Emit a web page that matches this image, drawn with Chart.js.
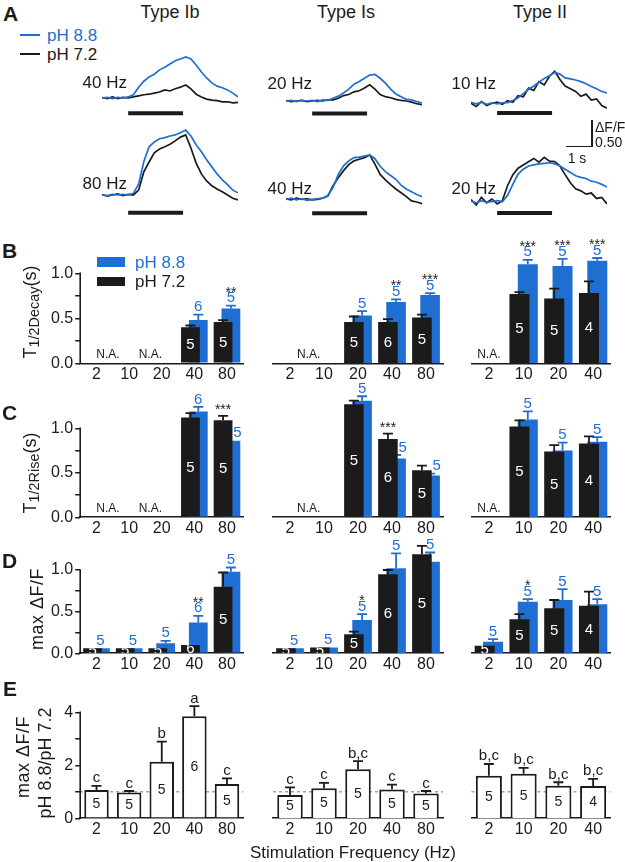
<!DOCTYPE html>
<html><head><meta charset="utf-8">
<script src="https://cdn.jsdelivr.net/npm/chart.js@4.4.1/dist/chart.umd.min.js"></script>
<style>
html,body{margin:0;padding:0;background:#fff;}
#stage{position:relative;width:625px;height:862px;overflow:hidden;font-family:'Liberation Sans',Arial,sans-serif;color:#1b1b1b;}
#stage canvas{position:absolute;}
.t{position:absolute;white-space:nowrap;line-height:1;}
.t sub{font-size:0.8em;vertical-align:-0.25em;line-height:1;}
</style></head><body><div id="stage"></div>
<script>
const FONT = "'Liberation Sans', Arial, sans-serif";
const BLUE = '#1f6fd3';
const INK = '#1b1b1b';

// ---------- Panel A: example traces (ΔF/F vs time, s) ----------
const traceTime = [0,0.2,0.4,0.6,0.8,1.0,1.2,1.4,1.6,1.8,2.0,2.2,2.4,2.6,2.8,3.0,3.2,3.4,3.6,3.8,4.0,4.2,4.4,4.6,4.8,5.0,5.2];
const stimTimes = [1.0, 3.1];
const ib40Blue  = [0.00,0.01,-0.01,0.01,0.00,0.02,0.06,0.20,0.31,0.39,0.44,0.52,0.57,0.63,0.69,0.72,0.76,0.72,0.61,0.48,0.37,0.28,0.22,0.19,0.15,0.09,0.02];
const ib40Black = [0.01,-0.01,0.02,-0.01,0.01,0.00,0.02,0.04,0.06,0.07,0.09,0.11,0.15,0.13,0.17,0.20,0.24,0.17,0.07,0.02,-0.02,-0.04,-0.05,-0.07,-0.07,-0.09,-0.08];
const ib80Blue  = [0.00,-0.01,0.01,0.00,0.01,0.00,0.03,0.20,0.62,0.89,0.98,1.04,1.06,1.09,1.11,1.15,1.20,1.09,0.93,0.80,0.65,0.52,0.39,0.28,0.19,0.09,0.04];
const ib80Black = [0.01,-0.02,0.00,0.02,-0.01,0.01,0.00,0.09,0.43,0.61,0.78,0.85,0.89,0.94,1.00,1.07,1.11,0.87,0.59,0.39,0.26,0.17,0.11,0.06,0.00,-0.06,-0.09];
const is20Blue  = [0.00,0.01,-0.01,0.01,0.00,0.01,-0.01,0.02,0.01,0.05,0.09,0.15,0.22,0.31,0.36,0.42,0.48,0.49,0.42,0.33,0.22,0.13,0.08,0.03,0.02,-0.01,-0.04];
const is20Black = [0.01,-0.01,0.00,0.01,-0.01,0.00,0.01,0.00,0.02,0.02,0.05,0.10,0.12,0.17,0.19,0.24,0.30,0.22,0.12,0.08,0.06,0.03,0.01,0.00,-0.02,-0.05,-0.07];
const is40Blue  = [0.00,0.02,-0.01,0.01,-0.02,0.00,0.01,0.02,0.07,0.22,0.46,0.62,0.71,0.77,0.78,0.80,0.82,0.75,0.61,0.51,0.44,0.37,0.26,0.19,0.14,0.09,0.05];
const is40Black = [0.01,-0.01,0.02,0.00,0.01,-0.01,0.00,0.02,0.06,0.25,0.40,0.53,0.64,0.71,0.74,0.77,0.82,0.65,0.46,0.36,0.27,0.19,0.12,0.05,-0.03,-0.05,-0.08];
const ii10Blue  = [0.02,-0.01,0.02,-0.02,0.01,-0.01,0.01,0.01,0.05,0.10,0.18,0.26,0.32,0.39,0.46,0.51,0.57,0.54,0.47,0.45,0.43,0.40,0.36,0.31,0.27,0.22,0.19];
const ii10Black = [0.00,-0.06,0.03,-0.04,0.00,0.02,-0.02,0.05,0.02,0.14,0.12,0.28,0.24,0.40,0.34,0.50,0.59,0.44,0.32,0.27,0.22,0.13,0.17,0.06,0.08,-0.04,-0.09];
const ii20Blue  = [0.01,-0.02,0.02,-0.01,0.00,0.02,0.00,0.12,0.32,0.51,0.60,0.66,0.68,0.70,0.71,0.72,0.70,0.66,0.60,0.54,0.48,0.45,0.43,0.38,0.36,0.32,0.27];
const ii20Black = [0.04,-0.06,0.08,-0.02,0.05,-0.04,0.02,0.30,0.50,0.62,0.68,0.74,0.80,0.73,0.82,0.75,0.74,0.66,0.50,0.35,0.24,0.20,0.14,0.16,0.06,0.08,-0.04];

// ---------- Categories (stimulation frequency, Hz) ----------
const freqIb = ['2','10','20','40','80'];
const freqIs = ['2','10','20','40','80'];
const freqII = ['2','10','20','40'];

// ---------- Panel B: T1/2 decay (s) ----------
const decayIb72 = [null,null,null,0.40,0.46];  const decayIb72Err = [0,0,0,0.02,0.02];
const decayIb88 = [null,null,null,0.48,0.61];  const decayIb88Err = [0,0,0,0.06,0.03];
const decayIs72 = [null,null,0.46,0.46,0.51];  const decayIs72Err = [0,0,0.06,0.03,0.03];
const decayIs88 = [null,null,0.53,0.68,0.76];  const decayIs88Err = [0,0,0.05,0.03,0.02];
const decayII72 = [null,0.77,0.72,0.78];       const decayII72Err = [0,0.02,0.11,0.13];
const decayII88 = [null,1.10,1.08,1.14];       const decayII88Err = [0,0.05,0.08,0.03];
const decayIbStars = ['','','','','**'];
const decayIsStars = ['','','','**','***'];
const decayIIStars = ['','***','***','***'];

// ---------- Panel C: T1/2 rise (s) ----------
const riseIb72 = [null,null,null,1.12,1.09];   const riseIb72Err = [0,0,0,0.05,0.05];
const riseIb88 = [null,null,null,1.19,0.86];   const riseIb88Err = [0,0,0,0.05,0];
const riseIs72 = [null,null,1.27,0.88,0.53];   const riseIs72Err = [0,0,0.04,0.06,0.05];
const riseIs88 = [null,null,1.31,0.66,0.47];   const riseIs88Err = [0,0,0.05,0.04,0.02];
const riseII72 = [null,1.02,0.74,0.83];        const riseII72Err = [0,0.07,0.07,0.08];
const riseII88 = [null,1.10,0.75,0.85];        const riseII88Err = [0,0.09,0.09,0.05];
const riseIbStars = ['','','','','***'];
const riseIsStars = ['','','','***',''];
const riseIIStars = ['','','',''];

// n per bar (B and C)
const nTimeIb72 = ['','','','5','5'];  const nTimeIb88 = ['','','','6','5'];
const nTimeIs72 = ['','','5','6','5']; const nTimeIs88 = ['','','5','5','5'];
const nTimeII72 = ['','5','5','4'];    const nTimeII88 = ['','5','5','5'];
// N.A. label positions (category index units)
const naIb = [0.35, 1.65];
const naIs = [0.55];
const naII = [0];

// ---------- Panel D: max ΔF/F ----------
const maxIb72 = [0.06,0.06,0.06,0.10,0.80];  const maxIb72Err = [0,0,0,0,0.17];
const maxIb88 = [0.06,0.06,0.12,0.37,0.98];  const maxIb88Err = [0,0,0.03,0.08,0.05];
const maxIs72 = [0.06,0.07,0.23,0.95,1.19];  const maxIs72Err = [0,0,0.03,0.05,0.10];
const maxIs88 = [0.06,0.07,0.40,1.02,1.10];  const maxIs88Err = [0,0,0.07,0.18,0.11];
const maxII72 = [0.09,0.41,0.54,0.57];       const maxII72Err = [0,0.06,0.10,0.17];
const maxII88 = [0.14,0.62,0.64,0.59];       const maxII88Err = [0.03,0.03,0.13,0.06];
const nMaxIb72 = ['5','5','5','6','5']; const nMaxIb88 = ['5','5','5','6','5'];
const nMaxIs72 = ['5','5','5','6','5']; const nMaxIs88 = ['5','5','5','5','5'];
const nMaxII72 = ['5','5','5','4'];     const nMaxII88 = ['5','5','5','5'];
const maxIbStars = ['','','','**',''];
const maxIsStars = ['','','*','',''];
const maxIIStars = ['','*','',''];

// ---------- Panel E: ratio max ΔF/F pH 8.8 / pH 7.2 ----------
const ratioIb = [1.07,0.97,2.13,3.85,1.29];  const ratioIbErr = [0.15,0.06,0.76,0.38,0.22];
const ratioIs = [0.88,1.13,1.85,1.09,0.94];  const ratioIsErr = [0.29,0.21,0.31,0.18,0.09];
const ratioII = [1.61,1.68,1.23,1.22];       const ratioIIErr = [0.44,0.22,0.13,0.27];
const nRatioIb = ['5','5','5','6','5'];
const nRatioIs = ['5','5','5','5','5'];
const nRatioII = ['5','5','5','4'];
const lettersIb = ['c','c','b','a','c'];
const lettersIs = ['c','c','b,c','c','c'];
const lettersII = ['b,c','b,c','b,c','b,c'];
const refLevel = 1;

// ================= layout helpers =================
const stage = document.getElementById('stage');
function makeCanvas(l, t, w, h) {
  const c = document.createElement('canvas');
  c.width = w; c.height = h;
  c.style.left = l + 'px'; c.style.top = t + 'px';
  c.style.width = w + 'px'; c.style.height = h + 'px';
  stage.appendChild(c);
  return c;
}
function txt(html, x, y, o = {}) {
  const d = document.createElement('div');
  d.className = 't';
  d.innerHTML = html;
  d.style.left = x + 'px'; d.style.top = y + 'px';
  d.style.fontSize = (o.size || 16) + 'px';
  if (o.bold) d.style.fontWeight = 'bold';
  if (o.color) d.style.color = o.color;
  if (o.ls) d.style.letterSpacing = o.ls + 'px';
  const ax = o.align === 'left' ? '0' : o.align === 'right' ? '-100%' : '-50%';
  d.style.transform = o.rot ? 'translate(-50%,-50%) rotate(-90deg)' : `translate(${ax},-50%)`;
  stage.appendChild(d);
}
function box(l, t, w, h, color) {
  const d = document.createElement('div');
  d.style.cssText = `position:absolute;left:${l}px;top:${t}px;width:${w}px;height:${h}px;background:${color};`;
  stage.appendChild(d);
}

// ================= Panel A =================
function traceChart(left, baseline, blue, black, stimY) {
  const W = 136, H = 92, PPU = 54.1;
  const top = Math.round(baseline - 1.3 * PPU);
  const ymax = (baseline - top) / PPU, ymin = ymax - H / PPU;
  const c = makeCanvas(left, top, W, H);
  new Chart(c, {
    type: 'line',
    data: { datasets: [
      { label: 'pH 8.8', data: traceTime.map((t, i) => ({ x: t, y: blue[i] })), borderColor: BLUE, borderWidth: 1.7, pointRadius: 0, tension: 0 },
      { label: 'pH 7.2', data: traceTime.map((t, i) => ({ x: t, y: black[i] })), borderColor: INK, borderWidth: 1.7, pointRadius: 0, tension: 0 },
      { label: 'stim', data: stimTimes.map(t => ({ x: t, y: stimY })), borderColor: INK, borderWidth: 4, pointRadius: 0, borderCapStyle: 'butt' }
    ] },
    options: {
      responsive: false, animation: false, devicePixelRatio: 1, events: [],
      layout: { padding: 0 },
      plugins: { legend: { display: false }, tooltip: { enabled: false } },
      scales: { x: { type: 'linear', display: false, min: 0, max: 5.2 }, y: { display: false, min: ymin, max: ymax } }
    }
  });
}
traceChart(102, 98, ib40Blue, ib40Black, -0.28);
traceChart(102, 195, ib80Blue, ib80Black, -0.33);
traceChart(286, 101, is20Blue, is20Black, -0.23);
traceChart(286, 199.3, is40Blue, is40Black, -0.26);
traceChart(471, 103.3, ii10Blue, ii10Black, -0.18);
traceChart(471, 201.7, ii20Blue, ii20Black, -0.21);

// ================= Bar panels =================
const GX = [[80.2, 243.3], [273, 443], [471.5, 610.5]];
const ROWS = {
  B: { bottom: 363.3, ppu: 90, max: 1.25, axisTop: 1.0, step: 0.25 },
  C: { bottom: 517.3, ppu: 89, max: 1.42, axisTop: 1.0, step: 0.25 },
  D: { bottom: 653.3, ppu: 83.3, max: 1.35, axisTop: 1.0, step: 0.25 },
  E: { bottom: 818.3, ppu: 26.5, max: 4.4, axisTop: 4, step: 1 }
};
const YW = 40, XH = 24;

function errBars(chart, meta, vals, errs, color) {
  const ctx = chart.ctx, y = chart.scales.y;
  ctx.save(); ctx.strokeStyle = color; ctx.lineWidth = 1.8;
  meta.data.forEach((b, i) => {
    if (vals[i] == null || !errs[i]) return;
    const y0 = y.getPixelForValue(vals[i]), y1 = y.getPixelForValue(vals[i] + errs[i]);
    ctx.beginPath();
    ctx.moveTo(b.x, y0); ctx.lineTo(b.x, y1);
    ctx.moveTo(b.x - 5, y1); ctx.lineTo(b.x + 5, y1);
    ctx.stroke();
  });
  ctx.restore();
}

function annot(spec, row, showY) {
  return {
    id: 'annot',
    beforeDatasetsDraw(chart) {
      if (spec.mode !== 'ratio') return;
      const { ctx, chartArea: a } = chart;
      const py = chart.scales.y.getPixelForValue(refLevel);
      ctx.save(); ctx.strokeStyle = '#8c8c8c'; ctx.lineWidth = 1.2; ctx.setLineDash([3, 3]);
      ctx.beginPath(); ctx.moveTo(a.left, py); ctx.lineTo(a.right, py); ctx.stroke(); ctx.restore();
    },
    afterDatasetDraw(chart, args) {
      if (spec.mode === 'pair') {
        if (args.index === 0) errBars(chart, args.meta, spec.v72, spec.e72, INK);
        else errBars(chart, args.meta, spec.v88, spec.e88, BLUE);
      } else errBars(chart, args.meta, spec.v, spec.e, INK);
    },
    afterDatasetsDraw(chart) {
      const { ctx, chartArea: a } = chart;
      const xs = chart.scales.x, ys = chart.scales.y;
      const base = ys.getPixelForValue(0);
      ctx.save();
      if (showY) {
        ctx.strokeStyle = INK; ctx.lineWidth = 1.6;
        ctx.beginPath(); ctx.moveTo(a.left, base + 0.8); ctx.lineTo(a.left, ys.getPixelForValue(row.axisTop) - 0.75); ctx.stroke();
      }
      ctx.textAlign = 'center';
      if (spec.mode === 'pair') {
        const mK = chart.getDatasetMeta(0), mB = chart.getDatasetMeta(1);
        (spec.na || []).forEach(p => {
          ctx.font = `12px ${FONT}`; ctx.fillStyle = INK; ctx.textBaseline = 'middle';
          ctx.fillText('N.A.', xs.getPixelForValue(p), base - 8.5);
        });
        spec.labels.forEach((lab, i) => {
          const kb = mK.data[i], bb = mB.data[i];
          if (spec.v72[i] != null && spec.n72[i]) {
            const top = ys.getPixelForValue(spec.v72[i]);
            ctx.save();
            ctx.beginPath(); ctx.rect(kb.x - kb.width / 2, top, kb.width, base - top); ctx.clip();
            ctx.font = `15px ${FONT}`; ctx.fillStyle = '#ffffff'; ctx.textBaseline = 'middle';
            ctx.fillText(spec.n72[i], kb.x, (top + base) / 2);
            ctx.restore();
          }
          let ly = null, lx = null;
          if (spec.v88[i] != null && spec.n88[i]) {
            const topB = ys.getPixelForValue(spec.v88[i] + (spec.e88[i] || 0));
            ly = topB - 7.5; lx = bb.x;
            const kTop = spec.v72[i] != null ? ys.getPixelForValue(spec.v72[i]) : Infinity;
            if (kTop < ly + 6) lx = kb.x + kb.width / 2 + 5;
            ctx.font = `15px ${FONT}`; ctx.fillStyle = BLUE; ctx.textBaseline = 'middle';
            ctx.fillText(spec.n88[i], lx, ly);
          }
          if (spec.stars[i]) {
            const kErrTop = ys.getPixelForValue(spec.v72[i] + (spec.e72[i] || 0));
            let ay, ax;
            if (ly != null && ly < kErrTop) { ay = ly; ax = lx; } else { ay = kErrTop; ax = kb.x; }
            const fs = 14, cy = ay - 9.5;
            ctx.font = `${fs}px ${FONT}`; ctx.fillStyle = INK; ctx.textBaseline = 'alphabetic';
            ctx.fillText(spec.stars[i], ax, cy + 0.57 * fs);
          }
        });
      } else {
        const m = chart.getDatasetMeta(0);
        spec.labels.forEach((lab, i) => {
          const b = m.data[i];
          const top = ys.getPixelForValue(spec.v[i]);
          ctx.font = `14px ${FONT}`; ctx.fillStyle = INK; ctx.textBaseline = 'middle';
          ctx.fillText(spec.n[i], b.x, (top + base) / 2);
          const et = ys.getPixelForValue(spec.v[i] + spec.e[i]);
          ctx.font = `15px ${FONT}`; ctx.textBaseline = 'alphabetic';
          ctx.fillText(spec.letters[i], b.x, et - 3.5);
        });
      }
      ctx.restore();
    }
  };
}

function barPanel(row, g, spec) {
  const [al, ar] = GX[g];
  const ab = row.bottom, at = row.bottom - row.max * row.ppu;
  const showY = g === 0;
  const cl = Math.floor(al - (showY ? YW + 8 : 8));
  const ct = Math.floor(at - 28);
  const cw = Math.ceil(ar + 8 - cl);
  const ch = Math.ceil(ab + XH - ct) + 1;
  const padding = { left: al - cl - (showY ? YW : 0), right: cl + cw - ar, top: at - ct, bottom: ct + ch - ab - XH };
  const c = makeCanvas(cl, ct, cw, ch);
  let datasets;
  if (spec.mode === 'pair') {
    datasets = [
      { label: 'pH 7.2', data: spec.v72, backgroundColor: INK, order: 0, categoryPercentage: 0.48, barPercentage: 2.4 },
      { label: 'pH 8.8', data: spec.v88, backgroundColor: BLUE, order: 1, categoryPercentage: 0.48, barPercentage: 2.4 }
    ];
  } else {
    datasets = [{ label: 'ratio', data: spec.v, backgroundColor: '#ffffff', borderColor: INK, borderWidth: 2, borderSkipped: 'start', categoryPercentage: 1, barPercentage: 0.75 }];
  }
  const fmt = row.step === 1
    ? (v => (Math.round(v) % 2 === 0 ? String(Math.round(v)) : ''))
    : (v => (Math.abs(v * 2 - Math.round(v * 2)) < 1e-6 ? v.toFixed(1) : ''));
  new Chart(c, {
    type: 'bar',
    data: { labels: spec.labels, datasets },
    options: {
      responsive: false, animation: false, devicePixelRatio: 1, events: [],
      layout: { padding },
      plugins: { legend: { display: false }, tooltip: { enabled: false } },
      scales: {
        x: {
          offset: true,
          afterFit: s => { s.height = XH; },
          ticks: { padding: 2, color: INK, font: { size: 16, family: FONT }, autoSkip: false, maxRotation: 0 },
          grid: { display: true, drawOnChartArea: false, drawTicks: false },
          border: { display: true, color: INK, width: 1.6 }
        },
        y: {
          display: showY, min: 0, max: row.max,
          afterFit: s => { s.width = showY ? YW : 0; },
          afterBuildTicks: s => { s.ticks = s.ticks.filter(t => t.value <= row.axisTop + 1e-9); },
          ticks: { stepSize: row.step, includeBounds: false, autoSkip: false, padding: 2, color: INK, font: { size: 16, family: FONT }, callback: v => fmt(v) },
          grid: { display: true, drawOnChartArea: false, drawTicks: true, tickLength: 5, color: INK, lineWidth: 1.5 },
          border: { display: false }
        }
      }
    },
    plugins: [annot(spec, row, showY)]
  });
}

// B
barPanel(ROWS.B, 0, { mode: 'pair', labels: freqIb, v72: decayIb72, e72: decayIb72Err, v88: decayIb88, e88: decayIb88Err, n72: nTimeIb72, n88: nTimeIb88, stars: decayIbStars, na: naIb });
barPanel(ROWS.B, 1, { mode: 'pair', labels: freqIs, v72: decayIs72, e72: decayIs72Err, v88: decayIs88, e88: decayIs88Err, n72: nTimeIs72, n88: nTimeIs88, stars: decayIsStars, na: naIs });
barPanel(ROWS.B, 2, { mode: 'pair', labels: freqII, v72: decayII72, e72: decayII72Err, v88: decayII88, e88: decayII88Err, n72: nTimeII72, n88: nTimeII88, stars: decayIIStars, na: naII });
// C
barPanel(ROWS.C, 0, { mode: 'pair', labels: freqIb, v72: riseIb72, e72: riseIb72Err, v88: riseIb88, e88: riseIb88Err, n72: nTimeIb72, n88: nTimeIb88, stars: riseIbStars, na: naIb });
barPanel(ROWS.C, 1, { mode: 'pair', labels: freqIs, v72: riseIs72, e72: riseIs72Err, v88: riseIs88, e88: riseIs88Err, n72: nTimeIs72, n88: nTimeIs88, stars: riseIsStars, na: naIs });
barPanel(ROWS.C, 2, { mode: 'pair', labels: freqII, v72: riseII72, e72: riseII72Err, v88: riseII88, e88: riseII88Err, n72: nTimeII72, n88: nTimeII88, stars: riseIIStars, na: naII });
// D
barPanel(ROWS.D, 0, { mode: 'pair', labels: freqIb, v72: maxIb72, e72: maxIb72Err, v88: maxIb88, e88: maxIb88Err, n72: nMaxIb72, n88: nMaxIb88, stars: maxIbStars });
barPanel(ROWS.D, 1, { mode: 'pair', labels: freqIs, v72: maxIs72, e72: maxIs72Err, v88: maxIs88, e88: maxIs88Err, n72: nMaxIs72, n88: nMaxIs88, stars: maxIsStars });
barPanel(ROWS.D, 2, { mode: 'pair', labels: freqII, v72: maxII72, e72: maxII72Err, v88: maxII88, e88: maxII88Err, n72: nMaxII72, n88: nMaxII88, stars: maxIIStars });
// E
barPanel(ROWS.E, 0, { mode: 'ratio', labels: freqIb, v: ratioIb, e: ratioIbErr, n: nRatioIb, letters: lettersIb });
barPanel(ROWS.E, 1, { mode: 'ratio', labels: freqIs, v: ratioIs, e: ratioIsErr, n: nRatioIs, letters: lettersIs });
barPanel(ROWS.E, 2, { mode: 'ratio', labels: freqII, v: ratioII, e: ratioIIErr, n: nRatioII, letters: lettersII });

// ================= Text & decorations =================
txt('A', 3, 12.5, { size: 21, bold: true, align: 'left' });
txt('B', 2, 250, { size: 21, bold: true, align: 'left' });
txt('C', 2, 411.7, { size: 21, bold: true, align: 'left' });
txt('D', 2, 560, { size: 21, bold: true, align: 'left' });
txt('E', 3, 687.5, { size: 21, bold: true, align: 'left' });
txt('Type Ib', 170, 12, { size: 18 });
txt('Type Is', 346, 12, { size: 18 });
txt('Type II', 540, 12, { size: 18 });
box(20, 34, 20, 2, BLUE);
txt('pH 8.8', 47, 35, { size: 17, align: 'left', color: BLUE });
box(20, 53, 20, 2, INK);
txt('pH 7.2', 47, 54, { size: 17, align: 'left' });
txt('40 Hz', 127, 82, { size: 17, align: 'right' });
txt('80 Hz', 127, 182.5, { size: 17, align: 'right' });
txt('20 Hz', 312, 83, { size: 17, align: 'right' });
txt('40 Hz', 312, 187.5, { size: 17, align: 'right' });
txt('10 Hz', 496, 82.5, { size: 17, align: 'right' });
txt('20 Hz', 496, 187.5, { size: 17, align: 'right' });
box(590.8, 120, 1.8, 27, INK);
box(566, 145.5, 26.6, 1.8, INK);
txt('ΔF/F', 595, 127, { size: 14, align: 'left' });
txt('0.50', 595, 142, { size: 14, align: 'left' });
txt('1 s', 577, 158, { size: 14 });
box(97, 257, 28, 10, BLUE);
box(97, 276.5, 28, 9, INK);
txt('pH 8.8', 135, 261.7, { size: 17, align: 'left', color: BLUE });
txt('pH 7.2', 135, 281, { size: 17, align: 'left' });
txt('T<sub>1/2Decay</sub>(s)', 31, 312, { size: 18, rot: true });
txt('T<sub>1/2Rise</sub>(s)', 31, 473, { size: 18, rot: true });
txt('max ΔF/F', 37, 609, { size: 18, rot: true, ls: 0.5 });
txt('max ΔF/F', 23, 757, { size: 18, rot: true, ls: 0.5 });
txt('pH 8.8/pH 7.2', 45, 763, { size: 18, rot: true });
txt('Stimulation Frequency (Hz)', 353, 852, { size: 17 });
</script></body></html>
